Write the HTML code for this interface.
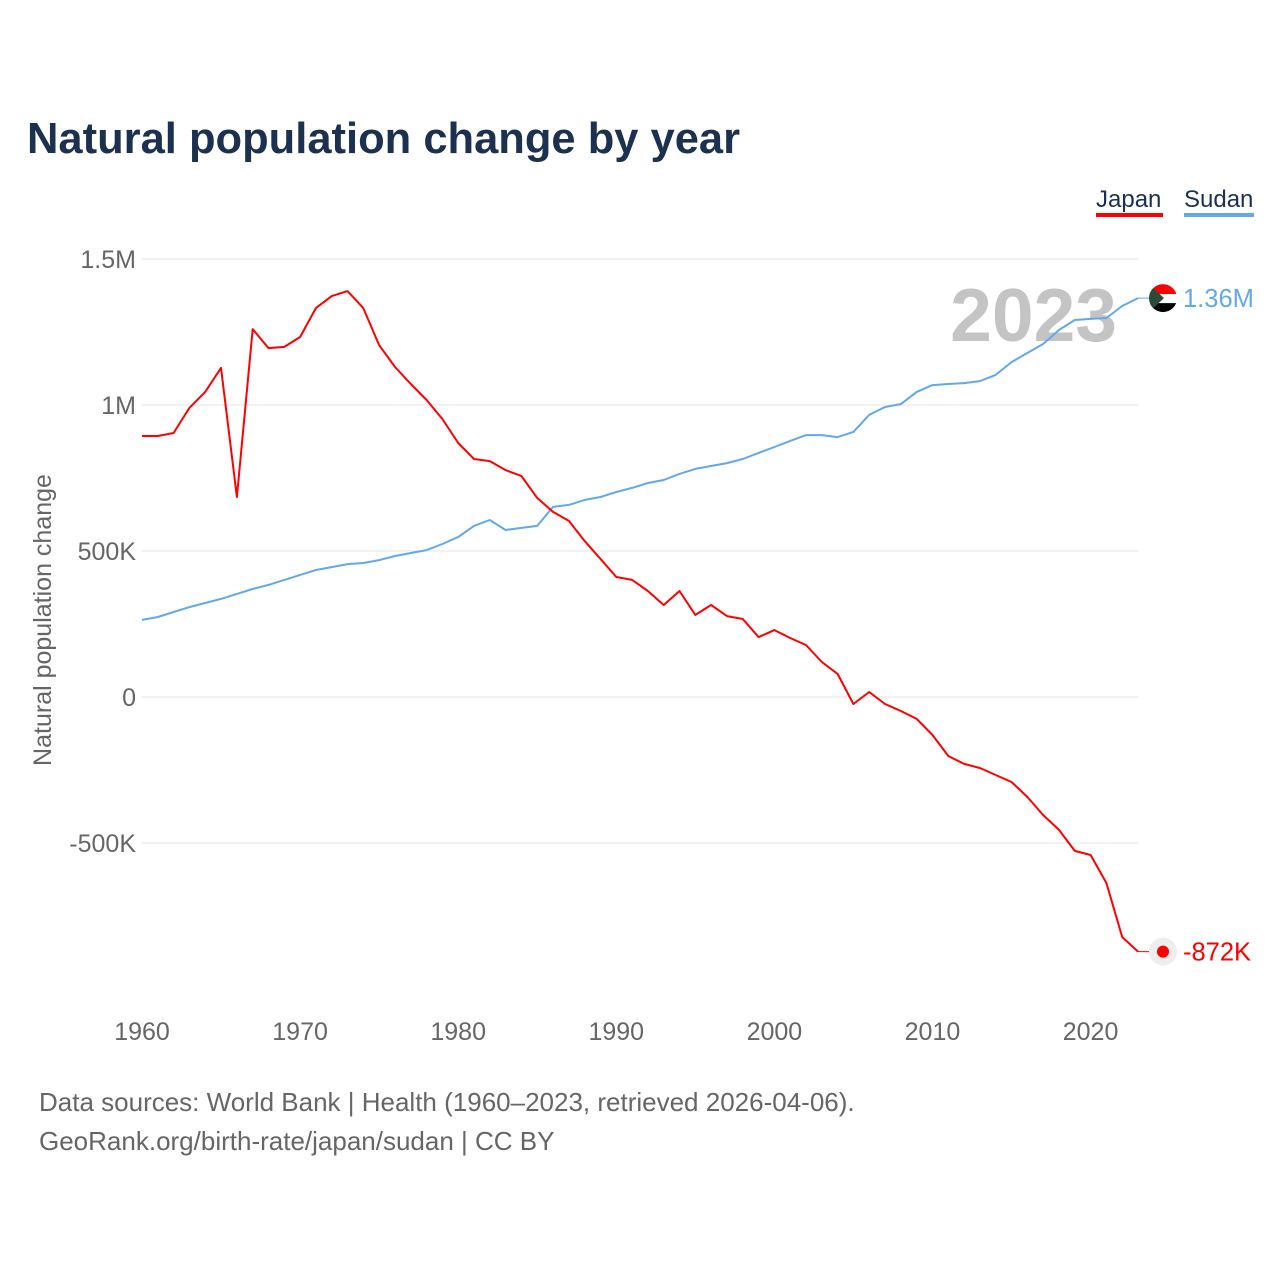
<!DOCTYPE html>
<html><head><meta charset="utf-8">
<style>
body{margin:0;background:#fff;font-family:"Liberation Sans",sans-serif;}
#wrap{position:relative;width:1280px;height:1280px;overflow:hidden;}
</style></head>
<body>
<div id="wrap">
<svg id="chart" width="1280" height="1280"></svg>
</div>
<script>
const years=[];for(let y=1960;y<=2023;y++)years.push(y);
const japanValues=[894,894,904,990,1045,1127,685,1260,1195,1199,1233,1332,1373,1390,1332,1205,1130,1072,1017,952,870,815,808,777,757,682,634,603,534,473,411,401,363,315,363,281,315,277,267,205,229,202,178,120,79,-24,17,-24,-48,-75,-130,-202,-229,-243,-267,-291,-342,-404,-455,-527,-541,-637,-822,-872];
const sudanValues=[264,274,291,308,322,336,353,370,384,401,418,435,445,455,459,469,483,493,503,524,548,586,606,572,579,586,651,658,675,685,702,716,733,743,764,781,791,801,815,836,856,877,897,897,890,908,966,993,1003,1045,1068,1072,1075,1082,1103,1147,1178,1209,1257,1291,1295,1298,1339,1366];
const yTicks=[1500,1000,500,0,-500];
const yTickLabels=["1.5M","1M","500K","0","-500K"];
const xTicks=[1960,1970,1980,1990,2000,2010,2020];

const NS="http://www.w3.org/2000/svg";
const svg=document.getElementById('chart');
const X=y=>142+(y-1960)*(1138-142)/63;
const Y=v=>697-v*146/500;
function el(t,a,txt){const e=document.createElementNS(NS,t);for(const k in a)e.setAttribute(k,a[k]);if(txt!=null)e.textContent=txt;svg.appendChild(e);return e;}

let e;
e=el('text',{x:27,y:153,'font-size':43.5,'font-weight':'bold',fill:'#1c3050'},'Natural population change by year');



yTicks.forEach((v,i)=>{
  e=el('line',{x1:142,x2:1138,y1:Y(v),y2:Y(v),stroke:'#e6e6e6','stroke-width':1});
  
  
  e=el('text',{x:136,y:Y(v)+9,'text-anchor':'end','font-size':25,fill:'#666'},yTickLabels[i]);
  
  
});
xTicks.forEach(t=>{
  e=el('text',{x:X(t),y:1040,'text-anchor':'middle','font-size':25,fill:'#666'},String(t));
  
  
});
e=el('text',{x:0,y:0,transform:'translate(51,620) rotate(-90)','text-anchor':'middle','font-size':25,fill:'#666'},'Natural population change');



e=el('text',{x:1117,y:341,'text-anchor':'end','font-size':75,'font-weight':'bold',fill:'#c4c4c4'},'2023');



function series(vals,color,name){
  const d=vals.map((v,i)=>(i?'L':'M')+X(years[i]).toFixed(1)+','+Y(v).toFixed(1)).join(' ');
  const p=el('path',{d,fill:'none',stroke:color,'stroke-width':2,'stroke-linejoin':'round'});
  
  
  const last=vals[vals.length-1];
  const c=el('line',{x1:1138,x2:1152,y1:Y(last),y2:Y(last),stroke:color,'stroke-width':1});
  
  
}
series(sudanValues,'#62a8ec','sudan-line');
series(japanValues,'#ff0000','japan-line');

const sy=Y(sudanValues[sudanValues.length-1]);
const cx=1163;
e=el('clipPath',{id:'fc'});e.innerHTML='<circle cx="'+cx+'" cy="'+sy+'" r="14"/>';
const g=el('g',{'clip-path':'url(#fc)'});


g.innerHTML='<rect x="'+(cx-14)+'" y="'+(sy-14)+'" width="28" height="10" fill="#ff0000"/><rect x="'+(cx-14)+'" y="'+(sy-4)+'" width="28" height="9" fill="#fff"/><rect x="'+(cx-14)+'" y="'+(sy+5)+'" width="28" height="10" fill="#000"/><polygon points="'+(cx-14)+','+(sy-14)+' '+(cx+1)+','+sy+' '+(cx-14)+','+(sy+14)+'" fill="#2d4a38"/>';
e=el('text',{x:1183,y:sy+9,'font-size':25.5,fill:'#62a8ec'},'1.36M');



const jy=Y(japanValues[japanValues.length-1]);
e=el('circle',{cx:cx,cy:jy,r:14,fill:'#eee'});


e=el('circle',{cx:cx,cy:jy,r:6,fill:'#ff0000'});


e=el('text',{x:1183,y:jy+9,'font-size':25.5,fill:'#ff0000'},'-872K');



e=el('text',{x:1096,y:207,'font-size':24,fill:'#1c3050'},'Japan');


e=el('rect',{x:1096,y:213,width:67,height:4,fill:'#ff0000'});


e=el('text',{x:1184,y:207,'font-size':24,fill:'#1c3050'},'Sudan');


e=el('rect',{x:1184,y:213,width:70,height:4,fill:'#62a8ec'});



e=el('text',{x:39,y:1111,'font-size':26,fill:'#666'},'Data sources: World Bank | Health (1960–2023, retrieved 2026-04-06).');


e=el('text',{x:39,y:1150,'font-size':26,fill:'#666'},'GeoRank.org/birth-rate/japan/sudan | CC BY');


</script>
</body></html>
